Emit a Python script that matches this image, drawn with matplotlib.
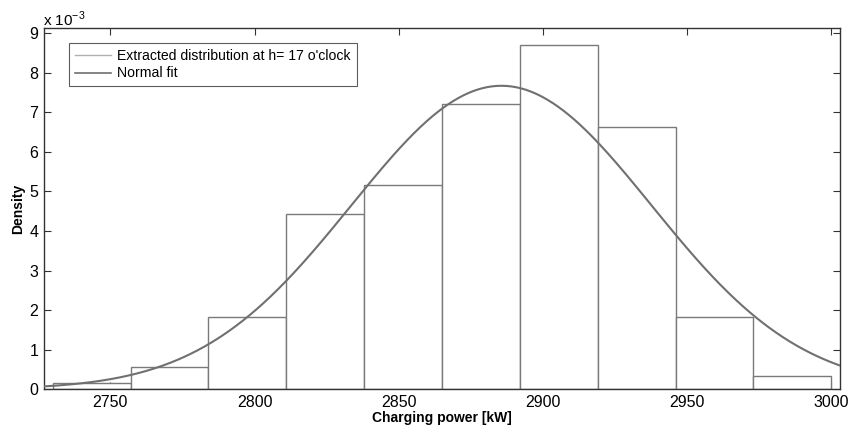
import numpy as np
import matplotlib
matplotlib.use("Agg")
import matplotlib.pyplot as plt
from matplotlib.lines import Line2D

plt.rcParams['font.family'] = ['Liberation Sans', 'DejaVu Sans']

# Histogram data (density, units of 1e-3)
bin_edges = [2730, 2757, 2784, 2811, 2838, 2865, 2892, 2919, 2946, 2973, 3000]
densities = [0.152, 0.556, 1.82, 4.43, 5.16, 7.21, 8.70, 6.64, 1.82, 0.33]

# Normal fit parameters
fit_mu = 2885.6
fit_sigma = 52.0

xlim = (2727, 3003)
xticks = [2750, 2800, 2850, 2900, 2950, 3000]
yticks = [0, 1, 2, 3, 4, 5, 6, 7, 8, 9]

fig = plt.figure(figsize=(8.51, 4.30), dpi=100)
ax = fig.add_axes([44/851, 1-389.3/430, (840-44)/851, (389.3-28.3)/430])

edges = np.array(bin_edges, dtype=float)
widths = np.diff(edges)
ax.bar(edges[:-1], densities, width=widths, align='edge', facecolor='white',
       edgecolor='#7a7a7a', linewidth=1.0, zorder=2)

xs = np.linspace(xlim[0], xlim[1], 600)
pdf = 1e3 / (fit_sigma * np.sqrt(2 * np.pi)) * np.exp(-0.5 * ((xs - fit_mu) / fit_sigma) ** 2)
ax.plot(xs, pdf, color='#707070', linewidth=1.5, zorder=3)

ax.set_xlim(*xlim)
ax.set_ylim(0, 9.125)
ax.set_xticks(xticks)
ax.set_yticks(yticks)
ax.tick_params(direction='in', top=True, right=True, length=5, width=0.8,
               labelsize=11.5, color='#333333', pad=4)
for s in ax.spines.values():
    s.set_color('#333333')
    s.set_linewidth(1.0)

ax.set_xlabel('Charging power [kW]', fontsize=10, fontweight='bold', labelpad=1)
ax.set_ylabel('Density', fontsize=10, fontweight='bold', labelpad=3)

fig.text(43/851, 1-19/430, r'x 10$^{\mathregular{-3}}$', fontsize=11, ha='left', va='center')

handles = [Line2D([], [], color='#b0b0b0', linewidth=1.0),
           Line2D([], [], color='#707070', linewidth=1.2)]
leg = ax.legend(handles, ["Extracted distribution at h= 17 o'clock", 'Normal fit'],
                loc='upper left', bbox_to_anchor=((69-44)/796, (389.3-43.3)/361),
                fontsize=10.1, frameon=True, fancybox=False, borderpad=0.4,
                handlelength=2.6, handletextpad=0.45, labelspacing=0.25, borderaxespad=0)
leg.get_frame().set_edgecolor('#333333')
leg.get_frame().set_linewidth(0.8)

fig.savefig('out.png', dpi=100)
